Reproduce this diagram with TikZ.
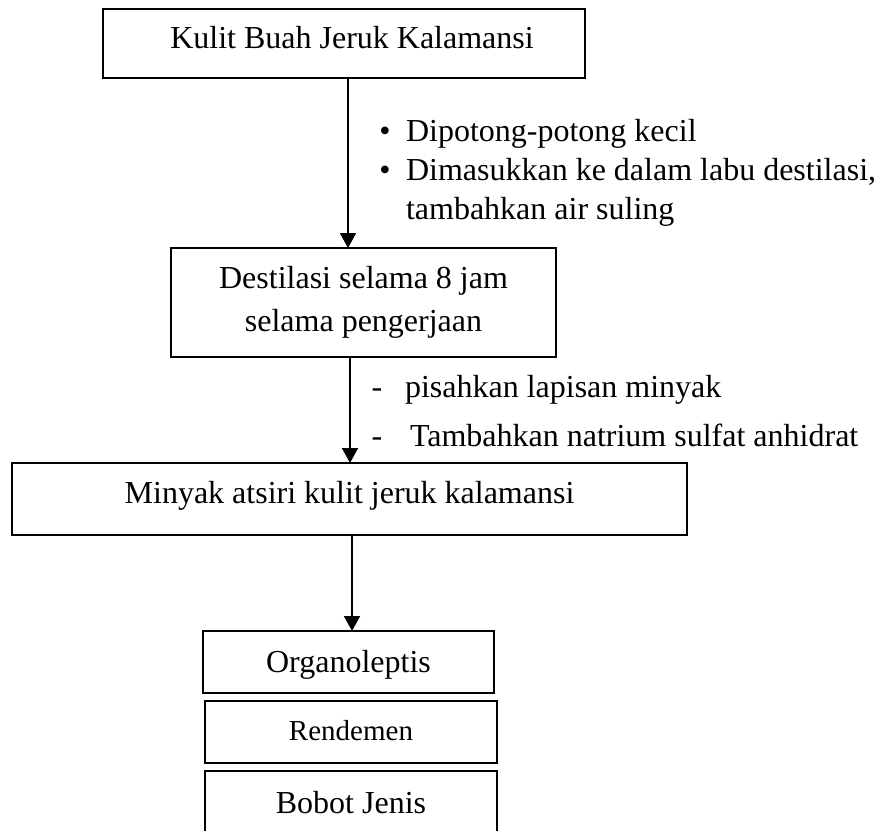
\documentclass[tikz,border=0pt]{standalone}
\usepackage{fontspec}
\setmainfont{Liberation Serif}
\usetikzlibrary{arrows.meta}
\begin{document}
\begin{tikzpicture}[x=1pt,y=-1pt,
  box/.style={draw=black,line width=1.6pt,inner sep=0pt,outer sep=0pt,align=center,
    font=\fontsize{32}{43}\selectfont},
  txt/.style={inner sep=0pt,outer sep=0pt,anchor=base west,font=\fontsize{32}{38}\selectfont},
  arr/.style={line width=1.8pt,-{Triangle[width=16pt,length=15pt]}}]
\clip (0,0) rectangle (880,830);
\fill[white] (0,0) rectangle (880,830);
% boxes
\node[box,anchor=north,minimum width=482pt,text height=39pt,text depth=30pt] (b1) at (344,9) {\hspace*{16pt}Kulit Buah Jeruk Kalamansi};
\node[box,line width=1.3pt,anchor=north,minimum width=385pt,text height=83pt,text depth=26pt] (b2) at (363.5,248) {Destilasi selama 8 jam\\selama pengerjaan};
\node[box,anchor=north,minimum width=675pt,text height=40pt,text depth=32pt] (b3) at (349.5,463) {Minyak atsiri kulit jeruk kalamansi};
\node[box,anchor=north,minimum width=291pt,text height=41pt,text depth=21pt] (b4) at (348.5,631) {Organoleptis};
\node[box,anchor=north,minimum width=292pt,text height=39pt,text depth=23pt,font=\fontsize{29}{35}\selectfont] (b5) at (351,701) {Rendemen};
\node[box,anchor=north,minimum width=292pt,text height=42pt,text depth=40pt] (b6) at (351,771) {Bobot Jenis};
% arrows
\draw[arr] (b1.south -| 348,0) -- (b2.north -| 348,0);
\draw[arr] (b2.south -| 350,0) -- (b3.north -| 350,0);
\draw[arr] (b3.south -| 352,0) -- (b4.north -| 352,0);
% notes
\node[txt,anchor=base] (d1) at (385,141) {\textbullet};
\node[txt] (t1) at (406,141) {Dipotong-potong kecil};
\node[txt,anchor=base] (d2) at (385,180) {\textbullet};
\node[txt] (t2) at (406,180) {Dimasukkan ke dalam labu destilasi,};
\node[txt] (t3) at (406,219) {tambahkan air suling};
\node[txt,anchor=base] (m1) at (377,397) {-};
\node[txt] (t4) at (405,397) {pisahkan lapisan minyak};
\node[txt,anchor=base] (m2) at (377,446) {-};
\node[txt] (t5) at (410,446) {Tambahkan natrium sulfat anhidrat};
\end{tikzpicture}
\end{document}
